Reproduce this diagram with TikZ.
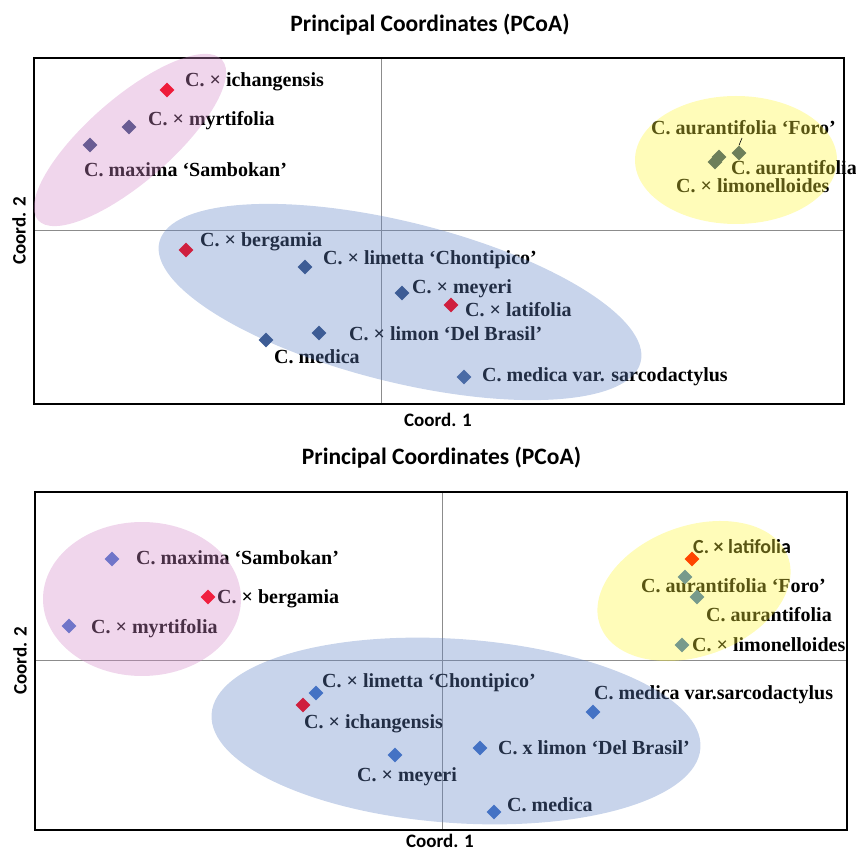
\documentclass[tikz,border=0pt]{standalone}
\usepackage{fontspec}
\setmainfont{Liberation Serif}
\newfontfamily\calib{Carlito}
\usetikzlibrary{shapes.geometric}
\definecolor{pinkfill}{RGB}{212,138,201}
\definecolor{bluefill}{RGB}{98,132,198}
\definecolor{yellowfill}{RGB}{255,246,55}
\definecolor{axisgray}{RGB}{140,140,140}
\definecolor{redA}{RGB}{238,28,58}
\definecolor{crimson}{RGB}{207,31,62}
\definecolor{purpleA}{RGB}{105,92,147}
\definecolor{navy}{RGB}{61,92,149}
\definecolor{blueB}{RGB}{74,107,166}
\definecolor{oliveA}{RGB}{109,127,90}
\definecolor{lilac}{RGB}{112,117,201}
\definecolor{redB}{RGB}{240,32,63}
\definecolor{blueC}{RGB}{68,114,196}
\definecolor{orangeA}{RGB}{255,69,0}
\definecolor{sage}{RGB}{119,154,140}
\begin{document}
\begin{tikzpicture}[x=1pt,y=1pt,
  lbl/.style={anchor=base west,inner sep=0pt,font=\bfseries\fontsize{20}{22}\selectfont,text=black},
  dia/.style={diamond,inner sep=0pt,minimum size=15pt},
  blob/.style={fill opacity=.35},
  hdr/.style={anchor=base,inner sep=0pt,font=\calib\bfseries\fontsize{23.5}{26}\selectfont},
  axl/.style={inner sep=0pt,font=\calib\bfseries\fontsize{19}{21}\selectfont}]
\useasboundingbox (0,0) rectangle (856,852);
\node[hdr] (titleA) at (430,820) {Principal Coordinates (PCoA)};
\draw[axisgray,line width=1pt] (381,448) -- (381,794);
\draw[axisgray,line width=1pt] (34,621) -- (844,621);
\draw[line width=1.5pt] (34,448) rectangle (844,794);
\node[axl,rotate=90] (ytitleA) at (19,621) {Coord. 2};
\node[axl] (xtitleA) at (438,432) {Coord. 1};
\node[lbl] (lIchA) at (185,765) {C. × ichangensis};
\node[lbl] (lMyrA) at (148,726) {C. × myrtifolia};
\node[lbl] (lMaxA) at (84,675) {C. maxima ‘Sambokan’};
\node[lbl] (lBerA) at (200,605) {C. × bergamia};
\node[lbl] (lLimetA) at (323,587) {C. × limetta ‘Chontipico’};
\node[lbl] (lMeyA) at (412,558) {C. × meyeri};
\node[lbl] (lLatA) at (465,535) {C. × latifolia};
\node[lbl] (lLimonA) at (349,511) {C. × limon ‘Del Brasil’};
\node[lbl] (lMedA) at (274,488) {C. medica};
\node[lbl] (lSarA) at (482,470) {C. medica var. sarcodactylus};
\node[lbl] (lForoA) at (651,717) {C. aurantifolia ‘Foro’};
\node[lbl] (lAurA) at (731,677) {C. aurantifolia};
\node[lbl] (lLmlA) at (676,659) {C. × limonelloides};
\fill[pinkfill,blob,shift={(130,712)},rotate=41] (0,0) ellipse [x radius=122pt,y radius=42pt];
\fill[bluefill,blob,shift={(400,550)},rotate=-14] (0,0) ellipse [x radius=248pt,y radius=80pt];
\fill[yellowfill,blob] (736,692) ellipse [x radius=101pt,y radius=64pt];
\node[dia,fill=redA] (dIchA) at (167,762) {};
\node[dia,fill=purpleA] (dMyrA) at (129,725) {};
\node[dia,fill=purpleA] (dMaxA) at (90,707) {};
\node[dia,fill=crimson] (dBerA) at (186,602) {};
\node[dia,fill=navy] (dLimetA) at (305,585) {};
\node[dia,fill=navy] (dMeyA) at (402,559) {};
\node[dia,fill=crimson] (dLatA) at (451,547) {};
\node[dia,fill=navy] (dLimonA) at (319,519) {};
\node[dia,fill=navy] (dMedA) at (266,512) {};
\node[dia,fill=blueB] (dSarA) at (464,475) {};
\node[dia,fill=oliveA] (dLmlA) at (715,690) {};
\node[dia,fill=oliveA] (dAurA) at (719,695) {};
\node[dia,fill=oliveA] (dForoA) at (739,699) {};
\coordinate (tickForoA) at (742,714);
\draw[line width=.6pt] (tickForoA) -- (dForoA.north);
\node[hdr] (titleB) at (441.5,387) {Principal Coordinates (PCoA)};
\draw[axisgray,line width=1pt] (442,22) -- (442,360);
\draw[axisgray,line width=1pt] (35,192) -- (847,192);
\draw[line width=1.5pt] (35,22) rectangle (847,360);
\node[axl,rotate=90] (ytitleB) at (20,191) {Coord. 2};
\node[axl] (xtitleB) at (440,11) {Coord. 1};
\node[lbl] (lMaxB) at (136,288) {C. maxima ‘Sambokan’};
\node[lbl] (lBerB) at (217,249) {C. × bergamia};
\node[lbl] (lMyrB) at (91,219) {C. × myrtifolia};
\node[lbl] (lLimetB) at (322,165) {C. × limetta ‘Chontipico’};
\node[lbl] (lIchB) at (304,124) {C. × ichangensis};
\node[lbl] (lMeyB) at (357,71) {C. × meyeri};
\node[lbl] (lLimonB) at (498,98) {C. x limon ‘Del Brasil’};
\node[lbl] (lMedB) at (507,41) {C. medica};
\node[lbl] (lSarB) at (594,153) {C. medica var.sarcodactylus};
\node[lbl,font=\calib\bfseries\fontsize{20}{22}\selectfont] (lLatB) at (693,299) {C. × latifolia};
\node[lbl] (lForoB) at (641,260) {C. aurantifolia ‘Foro’};
\node[lbl] (lAurB) at (706,231) {C. aurantifolia};
\node[lbl] (lLmlB) at (692,201) {C. × limonelloides};
\fill[pinkfill,blob] (142,253) ellipse [x radius=99pt,y radius=77pt];
\fill[bluefill,blob,shift={(456,121)},rotate=-4] (0,0) ellipse [x radius=245pt,y radius=92pt];
\fill[yellowfill,blob,shift={(694,261)},rotate=20] (0,0) ellipse [x radius=100pt,y radius=65pt];
\node[dia,fill=lilac] (dMaxB) at (112,293) {};
\node[dia,fill=redB] (dBerB) at (208,255) {};
\node[dia,fill=lilac] (dMyrB) at (69,226) {};
\node[dia,fill=blueC] (dLimetB) at (316,159) {};
\node[dia,fill=crimson] (dIchB) at (303,147) {};
\node[dia,fill=blueC] (dMeyB) at (395,97) {};
\node[dia,fill=blueC] (dLimonB) at (480,104) {};
\node[dia,fill=blueC] (dMedB) at (494,40) {};
\node[dia,fill=blueC] (dSarB) at (593,140) {};
\node[dia,fill=orangeA] (dLatB) at (692,293) {};
\node[dia,fill=sage] (dForoB) at (685,275) {};
\node[dia,fill=sage] (dAurB) at (697,255) {};
\node[dia,fill=sage] (dLmlB) at (682,207) {};
\end{tikzpicture}
\end{document}
